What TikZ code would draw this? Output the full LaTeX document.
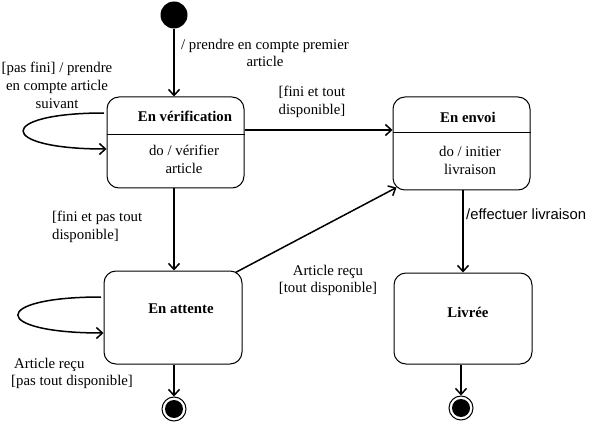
\documentclass[tikz,border=0pt]{standalone}
\usepackage{fontspec}
\setmainfont{Liberation Serif}
\newfontfamily\arialfont{Liberation Sans}
\usetikzlibrary{arrows.meta,calc}
\begin{document}
\begin{tikzpicture}[x=1pt,y=-1pt,
  every node/.style={font=\fontsize{14.8}{17.8}\selectfont, inner sep=0pt},
  statebox/.style={draw, line width=1pt, rounded corners=12pt, minimum width=#1},
  statebox/.default=137pt,
  title/.style={font=\fontsize{14.8}{17.8}\selectfont\bfseries},
  lbl/.style={align=center},
  arr/.style={line width=1.5pt, -{Straight Barb[length=6pt,width=11pt,line width=1.5pt]}},
  initdot/.style={circle, fill=black, minimum size=27pt},
  finring/.style={circle, draw, line width=1pt, minimum size=24pt, fill=white},
  findot/.style={circle, fill=black, minimum size=18pt}
]
\useasboundingbox (0,0) rectangle (592,425);
\fill[white] (0,0) rectangle (592,425);

% states
\node[initdot] (init) at (174,15) {};
\node[statebox, minimum height=91pt] (verif) at (175.5,142.5) {};
\node[statebox, minimum height=93pt] (envoi) at (461.5,143.5) {};
\node[statebox=138pt, minimum height=93pt] (attente) at (173,317.5) {};
\node[statebox=138pt, minimum height=91pt] (livree) at (463,318.5) {};
\node[finring] (fin1) at (174,409) {};
\node[findot] (fin1in) at (174,409) {};
\node[finring] (fin2) at (461,408) {};
\node[findot] (fin2in) at (461,408) {};

% dividers
\draw[line width=1pt] (verif.west |- 0,135) -- (verif.east |- 0,135);
\draw[line width=1pt] (envoi.west |- 0,133) -- (envoi.east |- 0,133);

% texts in states
\node[title] (t1) at (185,116) {En vérification};
\node[lbl] (d1) at (184,159.5) {do / vérifier\\article};
\node[title] (t2) at (468,117) {En envoi};
\node[lbl] (d2) at (470,160.5) {do / initier\\livraison};
\node[title] (t3) at (181,309) {En attente};
\node[title] (t4) at (468,312) {Livrée};

% transitions
\draw[arr] (init.south) -- (init.south |- verif.north);
\draw[arr] ([yshift=12.5pt]verif.east) -- ([yshift=12.5pt]verif.east -| envoi.west);
\draw[arr] (init.south |- verif.south) -- (init.south |- attente.north);
\draw[arr] ([xshift=-7pt,yshift=-2pt]attente.north east) -- ([xshift=4pt,yshift=3pt]envoi.south west);
\draw[arr] (livree.north |- envoi.south) -- (livree.north);
\draw[arr] (fin1.north |- attente.south) -- (fin1.north);
\draw[arr] (fin2.north |- livree.south) -- (fin2.north);

% self loops
\coordinate (l1a) at (104,113);
\draw[arr] (l1a) .. controls (-4,113) and (-4,149) .. (verif.west |- 0,149);
\coordinate (l2a) at (101,297);
\draw[arr] (l2a) .. controls (-10,297) and (-10,333) .. (attente.west |- 0,333);

% labels
\node[lbl] (L1) at (265,53) {/ prendre en compte premier\\article};
\node[lbl] (L2) at (57,85.5) {[pas fini] / prendre\\en compte article\\suivant};
\node[align=left] (L3) at (312,101.5) {[fini et tout\\disponible]};
\node[align=left, anchor=west] (L4) at (52,227) {[fini et pas tout\\disponible]};
\node[lbl] (L5) at (328,280.5) {Article reçu\\[0pt][tout disponible]};
\node[align=left, anchor=west] (L6) at (11,373.5) {\hspace{3pt}Article reçu\\[0pt][pas tout disponible]};
\node[anchor=west, font=\arialfont\fontsize{14.8}{17.8}\selectfont] (L7) at (466,214) {/effectuer livraison};
\end{tikzpicture}
\end{document}
